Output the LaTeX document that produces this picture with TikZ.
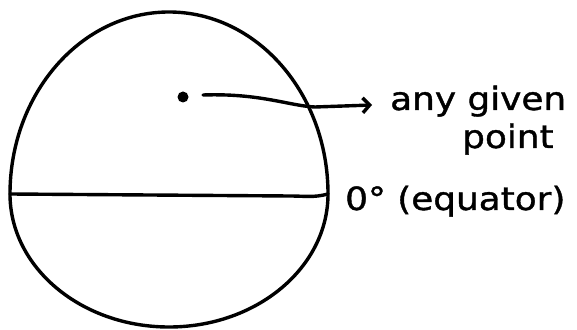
\documentclass[tikz,border=0pt]{standalone}
\usepackage{fontspec}
\usepackage{tikz}
\usetikzlibrary{arrows.meta, calc}
\newfontfamily\handfont[FakeStretch=1.12, FakeBold=1.2]{DejaVu Sans}

\begin{document}
\begin{tikzpicture}[x=1pt, y=1pt,
    pen/.style={line width=3.4pt, line cap=round, line join=round},
    handtext/.style={font=\handfont\fontsize{32}{38}\selectfont, inner sep=0pt, anchor=base west}]
\useasboundingbox (0,0) rectangle (577,329);

% Globe outline (egg shaped: taller above the equator)
\coordinate (eqW) at (10,135);
\coordinate (eqE) at (328,135);
\draw[pen] (eqE) arc[start angle=0, end angle=180, x radius=159, y radius=182]
    arc[start angle=180, end angle=360, x radius=159, y radius=133];

% Equator
\draw[pen] (eqW) -- (290,133) to[out=0,in=195] (eqE);

% Given point and its label
\node[circle, fill, inner sep=0pt, minimum size=11pt] (dot) at (183,232) {};
\node[handtext] (anytxt) at (390,219) {any given};
\node[handtext] (pointtxt) at (462,181) {point};
\draw[pen, -{Straight Barb[length=7pt,width=15pt]}] ($(dot)+(20,2)$)
    .. controls (260,236) and (290,223) .. (315,222) -- ($(anytxt.base west)+(-18,5)$);

% Equator label
\node[handtext] (eqtxt) at (345,119) {0° (equator)};
\end{tikzpicture}
\end{document}
